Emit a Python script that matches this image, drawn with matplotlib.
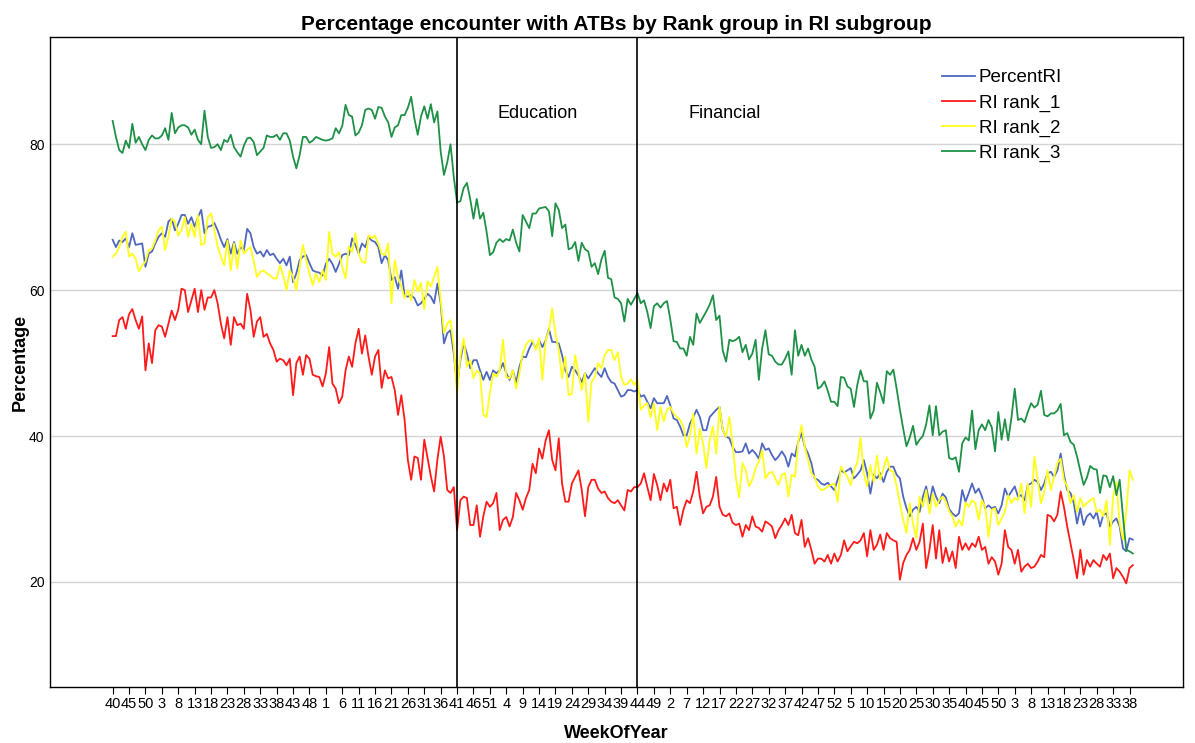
import matplotlib
matplotlib.use("Agg")
from matplotlib import pyplot as plt

plt.rcParams['font.family'] = ['Liberation Sans', 'DejaVu Sans']

# weekly values, week index 0 = week 40 of the first year
rank_3 = [
    83.2, 81.0, 79.2, 78.8, 80.5, 79.5, 82.8, 80.2, 81.0, 80.0,
    79.2, 80.6, 81.2, 80.8, 80.8, 81.2, 82.2, 80.6, 84.3, 81.5,
    82.3, 82.6, 82.6, 82.3, 81.3, 82.0, 80.6, 80.0, 84.6, 81.0,
    79.5, 79.6, 80.0, 79.2, 80.6, 80.3, 81.3, 79.6, 78.9, 78.3,
    79.8, 80.8, 80.9, 80.3, 78.5, 79.0, 79.5, 81.2, 81.0, 81.0,
    81.3, 80.6, 81.5, 81.5, 80.5, 78.3, 76.7, 78.5, 81.0, 81.0,
    80.2, 80.5, 81.0, 80.8, 80.6, 80.5, 80.6, 80.8, 82.2, 81.5,
    82.5, 85.4, 84.0, 83.8, 81.2, 81.6, 82.6, 84.7, 84.9, 84.7,
    83.5, 85.1, 85.0, 83.8, 83.0, 81.0, 82.3, 82.6, 84.0, 84.0,
    85.0, 86.5, 83.5, 81.3, 83.8, 85.2, 83.5, 85.5, 83.0, 84.5,
    79.0, 75.8, 77.5, 80.0, 75.5, 72.0, 72.2, 74.0, 74.7, 72.5,
    69.8, 72.5, 69.8, 70.6, 68.0, 64.8, 65.2, 66.5, 67.0, 66.6,
    67.0, 66.8, 68.3, 66.5, 65.3, 70.3, 69.4, 68.5, 70.5, 70.5,
    71.2, 71.3, 71.4, 70.8, 67.4, 71.9, 71.0, 68.5, 69.0, 65.6,
    65.8, 66.6, 64.0, 66.5, 65.6, 65.3, 63.2, 63.7, 62.2, 64.2,
    65.4, 61.7, 61.5, 59.0, 58.8, 58.2, 55.7, 58.8, 58.0, 58.8,
    59.6, 58.2, 58.6, 57.0, 54.8, 57.8, 58.2, 57.6, 58.2, 58.5,
    56.0, 53.0, 52.9, 52.0, 52.0, 51.0, 53.6, 52.5, 56.8, 55.5,
    56.3, 57.1, 58.0, 59.3, 55.9, 56.5, 51.7, 50.2, 53.2, 53.0,
    53.2, 53.6, 51.5, 52.5, 50.5, 51.3, 53.2, 47.7, 52.0, 54.5,
    51.2, 51.0, 50.2, 49.8, 49.8, 50.6, 51.6, 48.4, 54.5, 51.0,
    52.5, 51.0, 52.0, 50.5, 49.5, 46.5, 46.8, 47.5, 46.2, 44.7,
    44.7, 44.1, 48.1, 48.0, 46.8, 46.5, 44.0, 47.0, 49.0, 47.5,
    47.5, 42.4, 43.5, 47.3, 46.0, 44.5, 48.9, 48.4, 49.1, 46.5,
    43.6, 41.0, 38.6, 39.8, 41.4, 38.8, 39.5, 40.0, 41.6, 44.2,
    40.1, 44.1, 40.1, 40.6, 40.8, 37.0, 36.8, 37.1, 35.1, 39.0,
    39.8, 39.4, 43.5, 38.2, 40.8, 41.6, 40.8, 42.2, 41.2, 37.9,
    43.3, 39.5, 42.3, 39.4, 42.5, 46.5, 42.2, 42.4, 41.9, 43.3,
    44.5, 43.9, 44.3, 46.2, 42.9, 42.7, 43.1, 43.1, 43.5, 44.4,
    40.1, 40.4, 39.2, 38.8, 37.2, 35.2, 33.3, 34.3, 35.9, 35.5,
    35.4, 32.2, 34.6, 34.5, 33.0, 34.5, 31.9, 34.0, 29.0, 24.4,
    24.2, 23.9,
]

percent_ri = [
    66.9, 65.9, 66.8, 66.6, 67.1, 65.9, 67.8, 66.2, 66.3, 66.4,
    63.2, 65.0, 65.3, 66.4, 67.3, 67.8, 67.3, 69.4, 69.8, 68.2,
    69.1, 70.3, 70.3, 69.1, 70.0, 68.7, 70.0, 71.0, 67.8, 68.7,
    68.8, 69.2, 68.2, 66.9, 65.9, 67.0, 65.0, 66.6, 65.0, 65.9,
    65.5, 68.4, 67.8, 65.9, 65.0, 65.3, 64.6, 65.5, 64.8, 65.0,
    64.3, 63.7, 64.3, 63.4, 64.6, 61.1, 62.3, 64.1, 64.6, 64.8,
    63.7, 62.7, 62.5, 62.4, 62.0, 63.6, 64.3, 63.6, 62.5, 63.6,
    64.8, 65.0, 64.8, 67.1, 66.2, 65.0, 66.4, 65.9, 67.3, 66.8,
    66.6, 65.9, 63.7, 64.8, 64.1, 61.4, 61.8, 60.2, 62.7, 59.3,
    59.1, 59.3, 58.9, 57.9, 58.2, 58.8, 59.5, 59.1, 58.2, 60.9,
    58.2, 52.7, 54.1, 54.5, 51.3, 46.8, 50.4, 52.7, 51.3, 49.3,
    50.4, 50.4, 49.0, 47.7, 48.8, 47.7, 49.0, 48.6, 49.0, 50.0,
    48.6, 47.7, 49.0, 47.3, 49.5, 50.9, 50.8, 52.0, 52.9, 52.0,
    53.1, 52.2, 53.1, 54.7, 52.9, 52.9, 52.7, 51.1, 49.0, 48.1,
    49.5, 49.0, 48.3, 47.4, 48.6, 47.9, 48.6, 49.3, 48.6, 48.1,
    49.3, 48.1, 47.4, 47.2, 46.3, 45.4, 45.6, 46.3, 46.3, 46.1,
    46.3, 45.4, 45.6, 44.7, 43.8, 45.2, 44.5, 44.5, 44.5, 45.5,
    44.2, 42.4, 42.2, 41.3, 40.1, 40.1, 41.7, 42.6, 43.6, 42.6,
    40.8, 40.8, 42.6, 43.1, 43.6, 44.0, 40.8, 39.9, 39.7, 38.5,
    37.8, 37.8, 37.9, 39.0, 37.6, 38.1, 37.6, 36.9, 39.0, 38.1,
    38.3, 37.4, 36.7, 37.2, 37.9, 37.2, 35.8, 37.6, 37.2, 39.2,
    40.4, 38.5, 37.6, 36.3, 34.2, 34.0, 33.5, 33.3, 33.6, 33.1,
    32.6, 34.0, 35.3, 35.0, 35.3, 35.6, 34.2, 34.7, 35.3, 36.7,
    34.9, 32.1, 34.7, 34.2, 34.9, 33.7, 35.1, 35.8, 35.8, 34.7,
    34.2, 31.7, 30.1, 29.0, 29.9, 30.3, 29.6, 31.7, 33.1, 30.8,
    33.1, 31.7, 30.8, 32.1, 31.6, 30.0, 29.4, 29.0, 29.4, 32.6,
    31.0, 32.2, 33.5, 32.2, 32.8, 31.7, 30.1, 30.5, 30.1, 30.3,
    29.4, 30.5, 32.8, 31.7, 32.4, 33.1, 31.7, 31.9, 31.2, 33.3,
    33.5, 34.0, 33.7, 32.6, 33.5, 34.9, 35.1, 34.4, 35.3, 37.6,
    34.7, 32.6, 32.2, 30.8, 28.0, 30.1, 27.8, 29.0, 29.4, 28.7,
    29.6, 27.6, 29.2, 29.4, 27.6, 28.3, 28.7, 27.6, 24.6, 24.2,
    26.0, 25.8,
]

rank_2 = [
    64.6, 65.0, 65.9, 67.3, 68.0, 64.6, 65.0, 64.3, 62.6, 63.4,
    63.9, 65.5, 65.7, 66.8, 68.2, 68.7, 65.5, 67.3, 69.8, 69.4,
    67.5, 68.2, 70.0, 67.3, 69.1, 67.3, 70.3, 66.2, 66.4, 70.0,
    70.5, 68.2, 66.0, 64.6, 63.4, 66.8, 62.7, 66.4, 63.0, 66.8,
    65.0, 65.5, 65.9, 64.0, 61.8, 62.5, 62.7, 62.3, 62.0, 61.6,
    61.6, 63.4, 62.0, 60.0, 62.7, 61.8, 60.0, 63.2, 66.2, 64.1,
    62.3, 60.7, 62.3, 61.1, 62.7, 61.4, 68.0, 65.0, 64.6, 65.2,
    63.2, 61.6, 66.0, 65.2, 67.8, 65.0, 63.9, 63.7, 67.5, 67.1,
    67.5, 66.4, 65.0, 64.8, 66.4, 58.2, 64.1, 61.8, 60.5, 58.9,
    60.0, 58.6, 61.4, 59.8, 61.0, 57.4, 61.2, 60.5, 61.8, 63.2,
    58.6, 54.1, 55.4, 55.9, 52.2, 45.9, 50.9, 53.4, 49.5, 50.4,
    47.9, 49.0, 48.6, 42.9, 42.6, 45.9, 48.6, 48.1, 49.0, 53.2,
    48.1, 47.9, 49.0, 46.5, 48.6, 51.3, 52.5, 53.1, 53.1, 51.8,
    53.4, 47.7, 53.1, 54.5, 57.5, 54.0, 51.8, 47.9, 50.9, 45.6,
    45.8, 51.1, 48.6, 46.3, 48.6, 42.0, 47.4, 48.1, 50.0, 49.3,
    51.1, 51.8, 51.8, 50.4, 51.5, 48.1, 47.0, 47.2, 47.8, 47.0,
    47.7, 43.6, 44.2, 44.5, 42.6, 44.5, 40.8, 44.0, 42.0, 43.6,
    44.0, 43.1, 42.6, 42.2, 41.3, 38.5, 40.0, 43.1, 37.6, 41.0,
    39.0, 35.6, 39.5, 41.3, 37.6, 44.0, 40.8, 39.9, 42.6, 39.0,
    34.2, 31.6, 36.3, 35.3, 33.1, 34.0, 35.6, 36.5, 38.1, 34.2,
    34.9, 35.1, 34.2, 33.3, 34.7, 34.9, 31.7, 34.7, 34.4, 39.2,
    41.5, 38.5, 36.7, 34.9, 34.4, 33.1, 32.6, 32.7, 33.1, 33.3,
    33.5, 31.0, 35.8, 35.1, 34.4, 33.3, 35.3, 36.3, 39.8, 34.9,
    33.1, 36.0, 33.7, 37.3, 34.0, 35.6, 37.1, 35.3, 35.1, 33.1,
    30.8, 28.5, 26.7, 30.8, 28.0, 26.0, 31.7, 30.3, 32.6, 29.4,
    32.1, 30.3, 31.2, 31.7, 31.0, 29.7, 29.0, 27.6, 28.5, 27.7,
    30.9, 30.3, 31.2, 30.8, 28.5, 31.2, 30.3, 26.2, 29.9, 30.1,
    27.8, 28.7, 29.6, 31.9, 30.8, 31.5, 31.2, 33.5, 29.4, 33.5,
    30.3, 37.2, 34.0, 30.8, 32.4, 35.3, 32.6, 34.4, 36.3, 36.9,
    34.0, 33.1, 30.8, 31.9, 29.6, 31.5, 30.3, 30.8, 31.2, 31.5,
    29.6, 29.9, 29.0, 31.2, 25.1, 31.7, 33.7, 28.0, 25.8, 29.6,
    35.3, 34.0,
]

rank_1 = [
    53.7, 53.7, 55.9, 56.3, 54.7, 56.7, 57.4, 55.9, 54.7, 56.4,
    49.0, 52.7, 50.0, 54.5, 55.2, 55.0, 53.6, 55.4, 57.2, 55.9,
    57.3, 60.2, 60.0, 57.0, 58.6, 60.2, 57.0, 60.0, 57.3, 59.0,
    59.0, 60.0, 58.2, 55.4, 53.4, 56.3, 52.5, 56.3, 55.2, 55.4,
    54.7, 59.5, 57.3, 53.6, 55.7, 56.3, 53.6, 54.0, 52.7, 51.8,
    50.2, 50.6, 50.4, 49.7, 50.6, 45.6, 50.0, 50.9, 48.4, 51.1,
    50.6, 48.4, 48.2, 48.1, 46.8, 48.6, 52.2, 47.2, 46.5, 44.5,
    45.4, 49.0, 50.9, 49.5, 52.7, 54.7, 51.3, 53.8, 50.9, 48.4,
    50.9, 51.8, 46.6, 49.0, 47.9, 48.1, 46.3, 42.9, 45.6, 42.2,
    36.7, 34.0, 37.2, 37.0, 34.0, 39.5, 37.0, 34.5, 32.4, 36.8,
    39.9, 37.2, 32.6, 32.2, 33.0, 27.1, 31.2, 31.7, 31.5, 27.8,
    27.8, 30.5, 26.2, 29.0, 31.0, 30.3, 30.8, 32.2, 27.1, 28.5,
    28.9, 27.6, 28.9, 32.2, 31.2, 29.9, 31.5, 32.6, 36.2, 34.9,
    38.3, 36.9, 39.4, 40.8, 36.7, 35.3, 39.7, 33.5, 31.0, 31.0,
    33.5, 34.4, 35.3, 32.6, 29.0, 33.0, 34.0, 34.0, 32.8, 32.2,
    32.4, 31.5, 31.0, 30.8, 31.2, 30.5, 29.8, 32.6, 32.4, 33.0,
    33.0, 33.5, 34.9, 33.0, 31.2, 34.8, 33.3, 31.2, 33.5, 32.4,
    34.0, 30.1, 30.3, 27.8, 29.9, 31.2, 30.8, 32.4, 35.1, 31.7,
    29.4, 30.3, 30.5, 31.7, 34.4, 30.3, 29.2, 29.0, 29.4, 28.1,
    27.8, 28.0, 26.2, 27.8, 27.1, 29.0, 27.6, 27.4, 26.9, 28.3,
    28.0, 27.6, 26.0, 27.1, 27.8, 28.7, 27.8, 29.2, 26.7, 26.4,
    28.5, 24.8, 26.0, 24.4, 22.5, 23.2, 23.2, 22.8, 23.7, 22.5,
    23.9, 22.8, 23.7, 25.7, 24.2, 24.9, 25.5, 25.3, 25.7, 26.7,
    23.5, 27.1, 24.4, 25.1, 26.5, 24.4, 26.7, 26.0, 25.7, 25.5,
    20.3, 22.6, 23.7, 24.4, 26.0, 24.4, 25.5, 28.0, 21.9, 24.4,
    27.8, 23.2, 27.1, 22.6, 24.7, 22.8, 24.2, 21.9, 26.2, 24.4,
    25.3, 24.4, 25.3, 24.8, 26.2, 24.4, 24.8, 22.5, 23.4, 22.8,
    21.0, 22.5, 27.1, 24.8, 24.4, 22.5, 24.4, 21.4, 22.1, 22.5,
    21.9, 22.1, 22.8, 23.7, 23.4, 29.2, 29.0, 28.3, 29.2, 32.4,
    30.3, 27.6, 25.3, 23.0, 20.5, 24.4, 21.0, 23.0, 22.1, 23.0,
    22.5, 22.1, 23.7, 23.0, 23.9, 20.5, 21.9, 21.4, 20.7, 19.8,
    21.9, 22.3,
]

# label shown every 5th week
week_ticks = [40, 45, 50, 3, 8, 13, 18, 23, 28, 33, 38, 43, 48,
              1, 6, 11, 16, 21, 26, 31, 36, 41, 46, 51,
              4, 9, 14, 19, 24, 29, 34, 39, 44, 49,
              2, 7, 12, 17, 22, 27, 32, 37, 42, 47, 52,
              5, 10, 15, 20, 25, 30, 35, 40, 45, 50,
              3, 8, 13, 18, 23, 28, 33, 38]

# reference lines (week index) and their labels
events = [105, 160]
event_labels = ['Education', 'Financial']

x = list(range(len(percent_ri)))

fig = plt.figure(figsize=(11.95, 7.43), dpi=100)
ax = fig.add_axes([50 / 1195, 56 / 743, 1133 / 1195, 650 / 743])

ax.plot(x, percent_ri, color='#4f67bd', lw=1.3, label='PercentRI')
ax.plot(x, rank_1, color='#ff1a1a', lw=1.3, label='RI rank_1')
ax.plot(x, rank_2, color='#ffff1a', lw=1.3, label='RI rank_2')
ax.plot(x, rank_3, color='#1f9147', lw=1.3, label='RI rank_3')

for ev in events:
    ax.axvline(ev, color='black', lw=1.2)

ax.text(129.7, 84.2, event_labels[0], ha='center', va='center', fontsize=13)
ax.text(186.7, 84.2, event_labels[1], ha='center', va='center', fontsize=13)

ax.set_xlim(-19.1, 326.3)
ax.set_ylim(5.6, 94.7)
ax.set_yticks([20, 40, 60, 80])
ax.yaxis.grid(True, color='#d4d4d4', lw=1)
ax.set_axisbelow(True)
ax.set_xticks(range(0, 5 * len(week_ticks), 5))
ax.set_xticklabels([str(w) for w in week_ticks], fontsize=10.5)
ax.tick_params(axis='y', labelsize=10, length=0, pad=4)
ax.tick_params(axis='x', length=5, pad=2)
for s in ax.spines.values():
    s.set_color('black')
    s.set_linewidth(1)

ax.set_title('Percentage encounter with ATBs by Rank group in RI subgroup',
             fontsize=15, fontweight='bold', pad=5)
ax.set_xlabel('WeekOfYear', fontsize=13, fontweight='bold', labelpad=10)
ax.set_ylabel('Percentage', fontsize=13, fontweight='bold', labelpad=0)

leg = ax.legend(loc='upper left', bbox_to_anchor=(0.781, 0.962), frameon=False,
                fontsize=13.5, handlelength=1.75, handletextpad=0.2,
                labelspacing=0.42, borderaxespad=0)

fig.savefig('out.png', dpi=100)
